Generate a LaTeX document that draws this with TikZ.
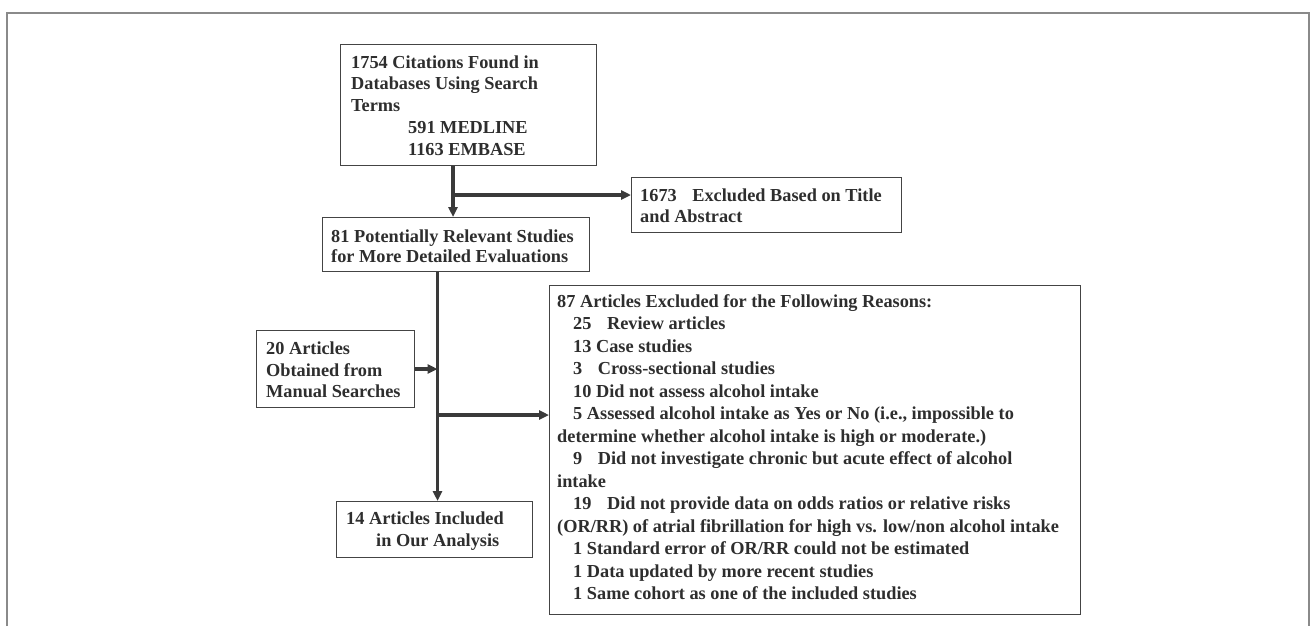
\documentclass[tikz,border=0pt]{standalone}
\usepackage{fontspec}
\setmainfont{Liberation Serif}
\usetikzlibrary{arrows.meta}
\definecolor{ink}{HTML}{2E2E2E}
\definecolor{boxc}{HTML}{444444}
\definecolor{linec}{HTML}{3A3A3A}
\definecolor{framec}{HTML}{8A8A8A}
\begin{document}
\begin{tikzpicture}[x=1pt,y=-1pt,
  box/.style={draw=boxc, line width=1.3pt, anchor=north west, inner sep=0pt, fill=white},
  txt/.style={anchor=north west, inner sep=0pt, align=left, text=ink,
              font=\fontsize{18.3}{#1}\selectfont\bfseries},
  txt/.default=21.7,
  conn/.style={draw=linec, line width=3.5pt, -{Triangle[length=10pt,width=9pt]}},
  frameline/.style={draw=framec, line width=1.4pt}]
\useasboundingbox (0,0) rectangle (1316,626);
% outer frame
\draw[frameline] (7,626) -- (7,13) -- (1309,13) -- (1309,626);
% boxes
\node[box, minimum width=256pt, minimum height=121pt] (b1) at (340,44) {};
\node[box, minimum width=270pt, minimum height=55pt] (b3) at (631,177) {};
\node[box, minimum width=267pt, minimum height=54pt] (b2) at (322,217) {};
\node[box, minimum width=158pt, minimum height=77pt] (b4) at (256,330) {};
\node[box, minimum width=531pt, minimum height=329pt] (b5) at (549,285) {};
\node[box, minimum width=196pt, minimum height=56pt] (b6) at (336,501) {};
% texts
\node[txt] (t1) at (351,55.4) {1754 Citations Found in\\Databases Using Search\\Terms\\\hspace*{57pt}591 MEDLINE\\\hspace*{57pt}1163 EMBASE};
\node[txt=21] (t3) at (640,188.4) {1673\hspace{11pt} Excluded Based on Title\\and Abstract};
\node[txt=20.5] (t2) at (331,229.4) {81 Potentially Relevant Studies\\for More Detailed Evaluations};
\node[txt] (t4) at (266,341.4) {20 Articles\\Obtained from\\Manual Searches};
\node[txt=22] (t6) at (346,511.4) {14 Articles Included\\\hspace*{30pt}in Our Analysis};
\node[txt=22.5] (t5) at (557,294.4) {87 Articles Excluded for the Following Reasons:\\
\hspace*{16pt}25\hspace{11pt} Review articles\\
\hspace*{16pt}13 Case studies\\
\hspace*{16pt}3\hspace{11pt} Cross-sectional studies\\
\hspace*{16pt}10 Did not assess alcohol intake\\
\hspace*{16pt}5 Assessed alcohol intake as Yes or No (i.e., impossible to\\
determine whether alcohol intake is high or moderate.)\\
\hspace*{16pt}9\hspace{11pt} Did not investigate chronic but acute effect of alcohol\\
intake\\
\hspace*{16pt}19\hspace{11pt} Did not provide data on odds ratios or relative risks\\
(OR/RR) of atrial fibrillation for high vs. low/non alcohol intake\\
\hspace*{16pt}1 Standard error of OR/RR could not be estimated\\
\hspace*{16pt}1 Data updated by more recent studies\\
\hspace*{16pt}1 Same cohort as one of the included studies};
% junctions
\coordinate (j1) at (453,195);
\coordinate (j2) at (437.5,369);
\coordinate (j3) at (437.5,415);
% connectors
\draw[conn] (b1.south -| j1) -- (b2.north -| j1);
\draw[conn] (j1) -- (b3.west |- j1);
\draw[conn] (b2.south -| j2) -- (b6.north -| j2);
\draw[conn] (b4.east |- j2) -- (j2);
\draw[conn] (j3) -- (b5.west |- j3);
\end{tikzpicture}
\end{document}
